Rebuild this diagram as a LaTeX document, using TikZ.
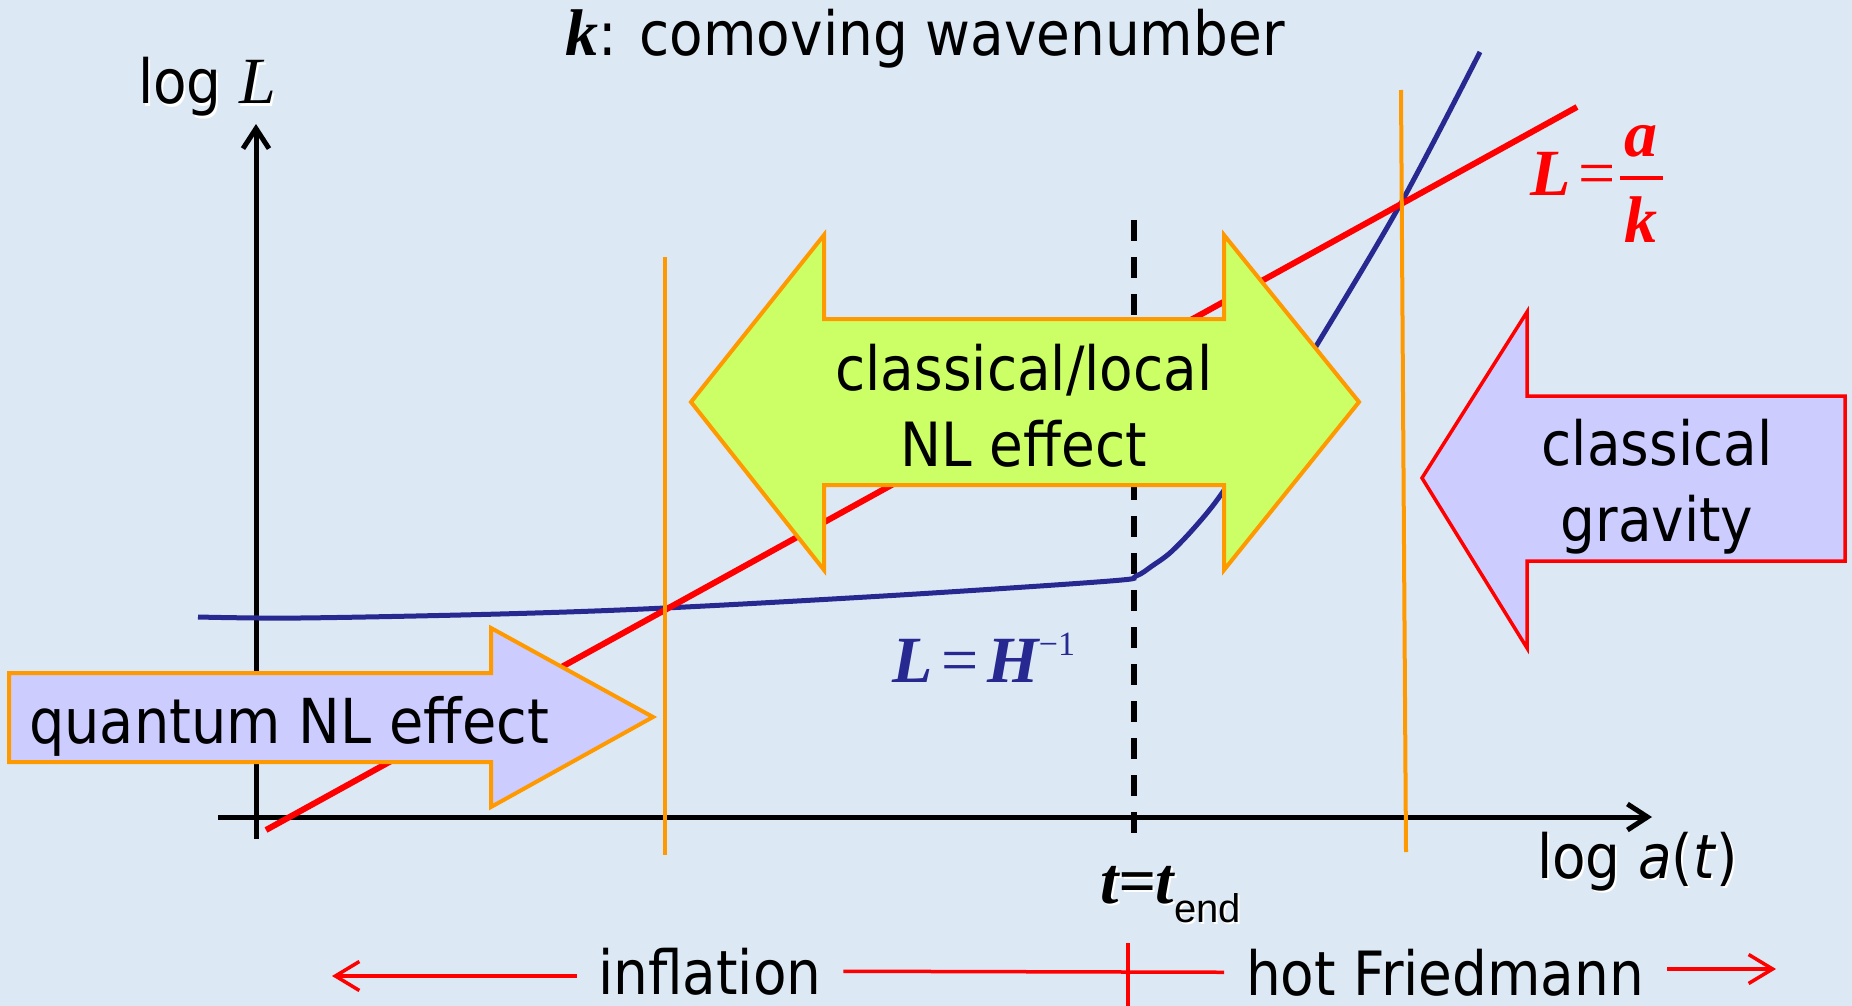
\documentclass[tikz,border=0pt]{standalone}
\usepackage{fontspec}
\setmainfont{DejaVu Sans}[FakeStretch=0.9]
\newfontfamily\tms{Liberation Serif}
\newfontfamily\arial{Liberation Sans}
\usetikzlibrary{arrows.meta}
\definecolor{bg}{RGB}{220,232,244}
\definecolor{navy}{RGB}{40,40,145}
\definecolor{orng}{RGB}{255,153,0}
\definecolor{lime}{RGB}{204,255,102}
\definecolor{lav}{RGB}{204,204,255}
\newcommand\bigfont{\fontsize{61}{76}\selectfont}
\newcommand\serfont{\tms\fontsize{66}{76}\selectfont}
\newcommand\shd[1]{\leavevmode\rlap{\kern2pt\raisebox{-2pt}{\color{white}#1}}#1}
\newcommand\myfrac[2]{\leavevmode\lower47pt\vbox{\offinterlineskip\halign{\hfil\kern5pt##\kern5pt\hfil\cr #1\cr\noalign{\kern19pt\hrule height4pt\kern16pt}#2\cr}}}
\begin{document}
\begin{tikzpicture}[x=1pt,y=-1pt,
  every node/.style={inner sep=0pt,outer sep=0pt,font=\bigfont},
  axisline/.style={line width=5pt,black,-{Straight Barb[length=20pt,width=26pt]}},
  tendline/.style={line width=5.5pt,black,dash pattern=on 21pt off 16pt},
  bluecurve/.style={line width=5pt,navy},
  redcurve/.style={line width=6pt,red},
  orangeline/.style={line width=4pt,orng},
  limearrow/.style={fill=lime,draw=orng,line width=4pt,line join=miter},
  quantarrow/.style={fill=lav,draw=orng,line width=4pt,line join=miter},
  gravarrow/.style={fill=lav,draw=red,line width=3.5pt,line join=miter},
  timeline/.style={line width=3.5pt,red},
  timearrow/.style={line width=3.5pt,red,-{Straight Barb[length=24pt,width=29pt]}}]
\fill[bg] (0,0) rectangle (1852,1006);
\useasboundingbox (0,0) rectangle (1852,1006);
% axes
\coordinate (yb) at (256,839); \coordinate (yt) at (256,124);
\coordinate (xl) at (218,817); \coordinate (xr) at (1652,817);
\draw[axisline] (yb) -- (yt);
\draw[axisline] (xl) -- (xr);
% t = t_end dashed line
\coordinate (dt) at (1134,220); \coordinate (db) at (1134,838);
\draw[tendline] (dt) -- (db);
% L = H^{-1}
\draw[bluecurve] plot[smooth,tension=0.55] coordinates {(198,617) (300,618) (500,614) (665,608) (900,595) (1110,581) (1136,576) (1152,566) (1171,552) (1195,527) (1220,496) (1260,436) (1318,343) (1401,203) (1480,52)};
% L = a/k
\coordinate (r0) at (266,830); \coordinate (r1) at (1577,107);
\draw[redcurve] (r0) -- (r1);
% orange lines
\coordinate (o1t) at (665,257); \coordinate (o1b) at (665,855);
\coordinate (o2t) at (1401,90); \coordinate (o2b) at (1406,852);
\draw[orangeline] (o1t) -- (o1b);
\draw[orangeline] (o2t) -- (o2b);
% block arrows
\draw[quantarrow] (9,673) -- (491,673) -- (491,628) -- (653,717) -- (491,807) -- (491,762) -- (9,762) -- cycle;
\draw[limearrow] (691,402) -- (824,235) -- (824,319) -- (1224,319) -- (1224,235) -- (1359,402) -- (1224,570) -- (1224,485) -- (824,485) -- (824,570) -- cycle;
\draw[gravarrow] (1422,478) -- (1527,312) -- (1527,396) -- (1845,396) -- (1845,561) -- (1527,561) -- (1527,648) -- cycle;
% texts in arrows
\node[anchor=base west] (qtext) at (29,743) {\fontsize{62}{76}\selectfont quantum NL effect};
\node[anchor=base] (ctext) at (1024,390) {\begin{tabular}[t]{@{}c@{}}classical/local\\NL effect\end{tabular}};
\node[anchor=base] (gtext) at (1657,465) {\begin{tabular}[t]{@{}c@{}}classical\\gravity\end{tabular}};
% labels
\node[anchor=base west] (title) at (565,56) {{\serfont\bfseries\itshape k}: comoving wavenumber};
\node[anchor=base west] (ylab) at (138,104) {\shd{log {\serfont\itshape L}}};
\node[anchor=base west] (xlab) at (1537,878) {\shd{log \textit{a}(\textit{t})}};
\node[anchor=base west] (tlab) at (1100,903) {\shd{{\serfont\bfseries\itshape t=t}\raisebox{-19pt}{\arial\fontsize{40}{40}\selectfont end}}};
\node[anchor=base west,text=red] (aklab) at (1530,195) {\serfont{\bfseries\itshape L}\hspace{8pt}=\hspace{4pt}\myfrac{\bfseries\itshape a}{\bfseries\itshape k}};
\node[anchor=base west,text=navy] (hlab) at (892,682) {{\serfont\bfseries\itshape L}\hspace{9pt}{\serfont=}\hspace{9pt}{\serfont\bfseries\itshape H}\raisebox{27pt}{\tms\fontsize{34}{34}\selectfont \textminus1}};
% time line
\node[anchor=base west] (infl) at (598,994) {inflation};
\node[anchor=base west] (hot) at (1246,995) {hot Friedmann};
\coordinate (lt) at (332,976); \coordinate (rt) at (1776,969);
\coordinate (ls) at ([xshift=-21pt]infl.west);
\coordinate (ms) at ([xshift=22pt]infl.east);
\coordinate (me) at ([xshift=-22pt]hot.west);
\coordinate (rs) at ([xshift=23pt]hot.east);
\draw[timearrow] (ls |- lt) -- (lt);
\draw[timeline] (ms) -- (me);
\draw[timearrow] (rs |- rt) -- (rt);
\coordinate (tk1) at (1128,943); \coordinate (tk2) at (1128,1010);
\draw[timeline] (tk1) -- (tk2);
\end{tikzpicture}
\end{document}
